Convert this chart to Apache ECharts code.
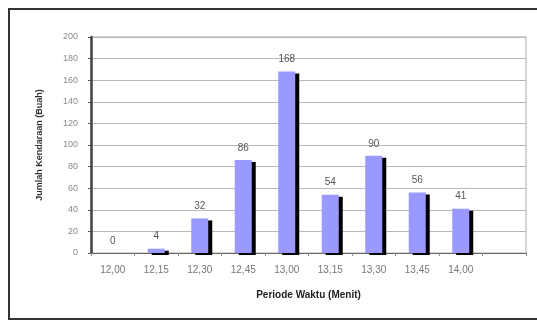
<!DOCTYPE html>
<html>
<head>
<meta charset="utf-8">
<script src="https://cdn.jsdelivr.net/npm/echarts@6/dist/echarts.min.js"></script>
<style>
  html, body { margin: 0; padding: 0; background: #fff; }
  #chart { width: 537px; height: 321px; }
</style>
</head>
<body>
<div id="chart"></div>
<script>
// periode waktu (kategori terakhir kosong, seperti di gambar asli)
const periods = ['12,00', '12,15', '12,30', '12,45', '13,00', '13,15', '13,30', '13,45', '14,00', '']
// jumlah kendaraan per periode
const vehicles = [0, 4, 32, 86, 168, 54, 90, 56, 41, null]
const yTicks = { min: 0, max: 200, interval: 20 }

const chart = echarts.init(document.getElementById('chart'))

// bar bernilai 0 tidak diberi bayangan
const barData = vehicles.map((v) => {
  if (v === 0) {
    return { value: v, itemStyle: { shadowColor: 'transparent' } }
  }
  return v
})

const option = {
  animation: false,
  textStyle: { fontFamily: 'Liberation Sans, Arial, sans-serif' },
  graphic: [
    {
      type: 'rect',
      shape: { x: 9, y: 9, width: 540, height: 310 },
      style: { fill: 'none', stroke: '#333', lineWidth: 2 }
    }
  ],
  grid: {
    left: 91,
    right: 11,
    top: 37,
    bottom: 68,
    show: true,
    borderColor: '#aaa',
    borderWidth: 1
  },
  xAxis: {
    type: 'category',
    data: periods,
    name: 'Periode Waktu (Menit)',
    nameLocation: 'middle',
    nameGap: 37,
    nameTextStyle: { fontSize: 10, fontWeight: 'bold', color: '#222' },
    axisLine: { lineStyle: { color: '#666', width: 1 } },
    axisTick: { show: true, length: 3, lineStyle: { color: '#888' } },
    axisLabel: { fontSize: 10, color: '#777', margin: 12 }
  },
  yAxis: {
    type: 'value',
    min: yTicks.min,
    max: yTicks.max,
    interval: yTicks.interval,
    name: 'Jumlah Kendaraan (Buah)',
    nameLocation: 'middle',
    nameGap: 47,
    nameRotate: 90,
    nameTextStyle: { fontSize: 9, fontWeight: 'bold', color: '#333' },
    axisLine: { show: true, lineStyle: { color: '#444', width: 2.5 } },
    axisTick: { show: true, length: 3, lineStyle: { color: '#555' } },
    axisLabel: { fontSize: 9, color: '#888', margin: 13 },
    splitLine: { lineStyle: { color: '#b8b8b8', width: 1 } }
  },
  series: [
    {
      type: 'bar',
      data: barData,
      barWidth: 17,
      itemStyle: {
        color: '#9999ff',
        borderWidth: 0,
        shadowColor: '#000',
        shadowBlur: 0,
        shadowOffsetX: 4,
        shadowOffsetY: 2
      },
      label: {
        show: true,
        position: 'top',
        distance: 7,
        fontSize: 10,
        color: '#555'
      }
    }
  ]
}

chart.setOption(option)
</script>
</body>
</html>
